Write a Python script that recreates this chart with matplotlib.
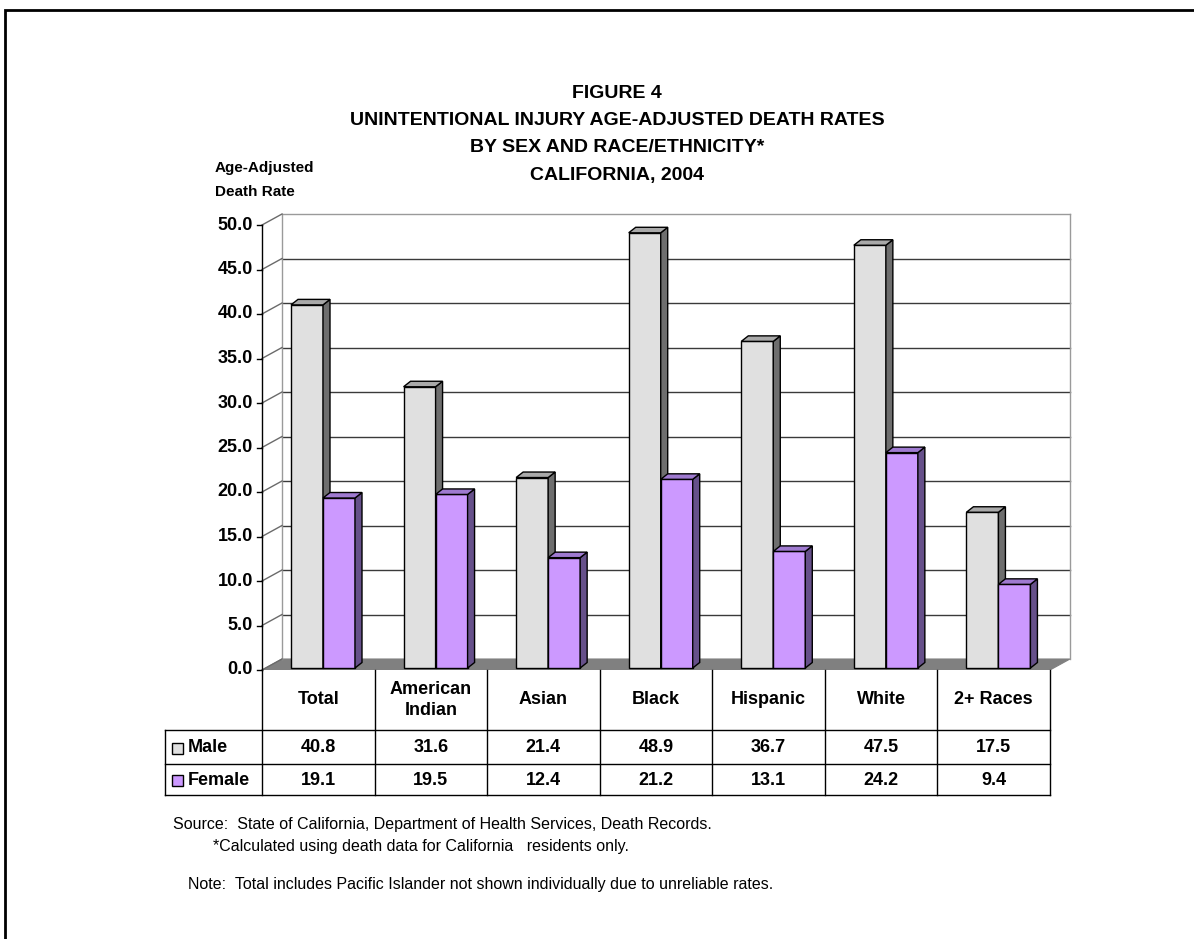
import matplotlib
matplotlib.use('Agg')
import matplotlib.pyplot as plt
from matplotlib.patches import Polygon, Rectangle

# ---------------- data ----------------
categories = ['Total', 'American\nIndian', 'Asian', 'Black', 'Hispanic', 'White', '2+ Races']
male = [40.8, 31.6, 21.4, 48.9, 36.7, 47.5, 17.5]
female = [19.1, 19.5, 12.4, 21.2, 13.1, 24.2, 9.4]
series_names = ['Male', 'Female']
yticks = [0, 5, 10, 15, 20, 25, 30, 35, 40, 45, 50]
title_lines = ['FIGURE 4',
               'UNINTENTIONAL INJURY AGE-ADJUSTED DEATH RATES',
               'BY SEX AND RACE/ETHNICITY*',
               'CALIFORNIA, 2004']
ylabel_lines = ['Age-Adjusted', 'Death Rate']
footnotes = ['Source:  State of California, Department of Health Services, Death Records.',
             '*Calculated using death data for California   residents only.',
             'Note:  Total includes Pacific Islander not shown individually due to unreliable rates.']

# ---------------- styles ----------------
front_colors = ['#E0E0E0', '#CC99FF']
side_colors = ['#6E6E6E', '#66508A']
top_colors = ['#A9A9A9', '#9F7AD0']

plt.rcParams['font.family'] = ['Liberation Sans', 'DejaVu Sans']

W, H = 1194, 939
fig = plt.figure(figsize=(W / 100, H / 100), dpi=100)


def px_box(l, t, r, b):
    return [l / W, 1 - b / H, (r - l) / W, (b - t) / H]


n = len(categories)
ymax = yticks[-1]
col_px = (1050 - 262) / n          # pixels per category column
ppu = 445 / ymax                   # pixels per value unit
dx = 20 / col_px                   # wall depth (x)
dy = 11 / ppu                      # wall depth (y)

ax = fig.add_axes(px_box(262, 214, 1070, 670))
ax.set_xlim(0, n + dx)
ax.set_ylim(0, ymax + dy)
ax.axis('off')

# floor
ax.add_patch(Polygon([(0, 0), (n, 0), (n + dx, dy), (dx, dy)], closed=True,
                     facecolor='#808080', edgecolor='#808080', lw=0.8, zorder=1))
# back wall gridlines
for v in yticks[1:]:
    col = '#9A9A9A' if v == ymax else '#3A3A3A'
    ax.plot([dx, n + dx], [v + dy, v + dy], color=col, lw=1, zorder=1, clip_on=False)
# wall edges
ax.plot([dx, dx], [dy, ymax + dy], color='#9A9A9A', lw=1, zorder=1, clip_on=False)
ax.plot([n + dx, n + dx], [dy, ymax + dy], color='#9A9A9A', lw=1, zorder=1, clip_on=False)
# side wall diagonals
for v in yticks:
    ax.plot([0, dx], [v, v + dy], color='#6A6A6A', lw=1, zorder=1, clip_on=False)
# front value axis
ax.plot([0, 0], [0, ymax], color='black', lw=1, zorder=2, clip_on=False)
tick_len = 5 / col_px
for v in yticks:
    ax.plot([-tick_len, 0], [v, v], color='black', lw=1, zorder=2, clip_on=False)
    ax.text(-9 / col_px, v, f'{v:.1f}', ha='right', va='center', fontsize=13,
            fontweight='bold', clip_on=False)

# bars (pseudo 3D)
bw = 32 / col_px
offsets = [29 / col_px, 61 / col_px]
b0 = 2 / ppu
bdx = 7 / col_px
bdy = 5.5 / ppu
for i in range(n):
    for s, vals in enumerate([male, female]):
        v = vals[i]
        x0 = i + offsets[s]
        x1 = x0 + bw
        top = b0 + v
        z = 3 + 2 * i + s
        ax.bar(x0, v, width=bw, bottom=b0, align='edge', color=front_colors[s],
               edgecolor='black', lw=1, zorder=z)
        ax.add_patch(Polygon([(x1, b0), (x1 + bdx, b0 + bdy), (x1 + bdx, top + bdy), (x1, top)],
                             closed=True, facecolor=side_colors[s], edgecolor='black',
                             lw=1, zorder=z))
        ax.add_patch(Polygon([(x0, top), (x0 + bdx, top + bdy), (x1 + bdx, top + bdy), (x1, top)],
                             closed=True, facecolor=top_colors[s], edgecolor='black',
                             lw=1, zorder=z))

# ---------------- data table ----------------
tax = fig.add_axes(px_box(165, 670, 1050, 795))
xl = -(262 - 165) / col_px
rows = [0, 60, 94, 125]
tax.set_xlim(xl, n)
tax.set_ylim(rows[-1], 0)
tax.axis('off')
for k in range(n + 1):
    tax.plot([k, k], [rows[0], rows[-1]], color='black', lw=1, clip_on=False)
tax.plot([xl, xl], [rows[1], rows[-1]], color='black', lw=1, clip_on=False)
for r in rows[1:]:
    tax.plot([xl, n], [r, r], color='black', lw=1, clip_on=False)

for k, cat in enumerate(categories):
    tax.text(k + 0.5, (rows[0] + rows[1]) / 2, cat, ha='center', va='center',
             fontsize=13, fontweight='bold', linespacing=1.35)
for s, vals in enumerate([male, female]):
    yc = (rows[s + 1] + rows[s + 2]) / 2
    for k, v in enumerate(vals):
        tax.text(k + 0.5, yc + 1, f'{v:.1f}', ha='center', va='center',
                 fontsize=13, fontweight='bold')
    sq = 11 / col_px
    tax.add_patch(Rectangle((xl + 7 / col_px, yc - 5.5 + 1), sq, 11,
                            facecolor=front_colors[s], edgecolor='black', lw=1, clip_on=False))
    tax.text(xl + 23 / col_px, yc + 1, series_names[s], ha='left', va='center',
             fontsize=13, fontweight='bold')

# ---------------- titles & notes ----------------
for j, line in enumerate(title_lines):
    fig.text(617 / W, 1 - (93 + 27.5 * j) / H, line, ha='center', va='center',
             fontsize=14, fontweight='bold')
for j, line in enumerate(ylabel_lines):
    fig.text(215 / W, 1 - (168 + 24 * j) / H, line, ha='left', va='center',
             fontsize=11, fontweight='bold')

fig.text(173 / W, 1 - 825 / H, footnotes[0], ha='left', va='center', fontsize=11.5)
fig.text(213 / W, 1 - 847 / H, footnotes[1], ha='left', va='center', fontsize=11.5)
fig.text(188 / W, 1 - 884 / H, footnotes[2], ha='left', va='center', fontsize=11.5)

# outer frame
fig.patches.append(Rectangle((5 / W, -0.2), 1.2, 1 - 10 / H + 0.2, transform=fig.transFigure,
                             fill=False, edgecolor='black', lw=2))

fig.savefig('out.png', dpi=100)
